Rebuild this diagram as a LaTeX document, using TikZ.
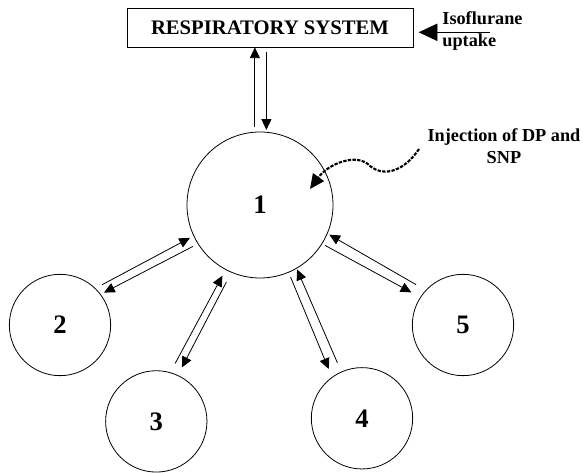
\documentclass[tikz,border=0pt]{standalone}
\usepackage{fontspec}
\setmainfont{Liberation Serif}
\usetikzlibrary{arrows.meta}

\tikzset{every picture/.style={line width=0.6pt}}
\tikzset{
  bubble/.style={draw, circle, inner sep=0pt, minimum size=76pt, font=\fontsize{20}{24}\selectfont\bfseries},
  flow/.style={-{Triangle[length=8pt,width=7.5pt]}},
  intake/.style={-{Triangle[length=14pt,width=13pt]}},
  inject/.style={line width=1.6pt, dash pattern=on 2.5pt off 1pt, -{Triangle[length=11pt,width=10pt]}},
  label/.style={inner sep=0pt, font=\fontsize{13.7}{16.5}\selectfont\bfseries}
}

\begin{document}
\begin{tikzpicture}[x=0.75pt,y=0.75pt,yscale=-1, xscale=1]
\useasboundingbox (0,0) rectangle (583,473);

%Shape: Rectangle
\node[draw, inner sep=0pt, minimum width=214.5pt, minimum height=29pt, font=\fontsize{15.5}{18}\selectfont\bfseries] (rs) at (270,27.7) {RESPIRATORY SYSTEM};

%Shape: Circle
\node[bubble, minimum size=109.5pt] (c1) at (260,205) {1};
%Shape: Circle
\node[bubble] (c2) at (60,325) {2};
%Shape: Circle
\node[bubble] (c3) at (156.3,421.4) {3};
%Shape: Circle
\node[bubble] (c4) at (362,418.3) {4};
%Shape: Circle
\node[bubble] (c5) at (463,325) {5};

% Text Node
\node[label, anchor=west, align=left] (iso) at (442,31.5) {Isoflurane\\uptake};
% Text Node
\node[label, align=center] (inj) at (504,146) {Injection of DP and\\SNP};

\coordinate (isotail) at (490,32.3);
\coordinate (injtail) at (419,149);
\coordinate (injtip) at (310,189);

%Straight Lines
\draw[intake, shorten >=4pt] (isotail) -- (rs.east |- isotail);
\draw[flow, shorten <=3.75pt] (c1.94) -- (c1.94 |- rs.south);
\draw[flow, shorten <=3.5pt, shorten >=1.5pt] (c1.85 |- rs.south) -- (c1.85);

\draw[flow, shorten <=5.5pt, shorten >=3pt] (c2.46) -- (c1.205);
\draw[flow, shorten <=4pt, shorten >=2.7pt] (c1.212) -- (c2.37);

\draw[flow, shorten <=7.5pt, shorten >=5pt] (c3.74) -- (c1.242);
\draw[flow, shorten <=8pt, shorten >=6.5pt] (c1.247) -- (c3.65);

\draw[flow, shorten <=3.75pt, shorten >=6.5pt] (c1.293) -- (c4.126);
\draw[flow, shorten <=7.3pt, shorten >=0.75pt] (c4.114) -- (c1.300);

\draw[flow, shorten <=8.3pt, shorten >=1.5pt] (c5.137) -- (c1.337);
\draw[flow, shorten <=2.3pt, shorten >=7.5pt] (c1.328) -- (c5.147);

%Curve Lines
\draw[inject] (injtail) .. controls (405,170) and (385,178) .. (370,166) .. controls (357,152) and (328,164) .. (injtip);
\end{tikzpicture}
\end{document}
